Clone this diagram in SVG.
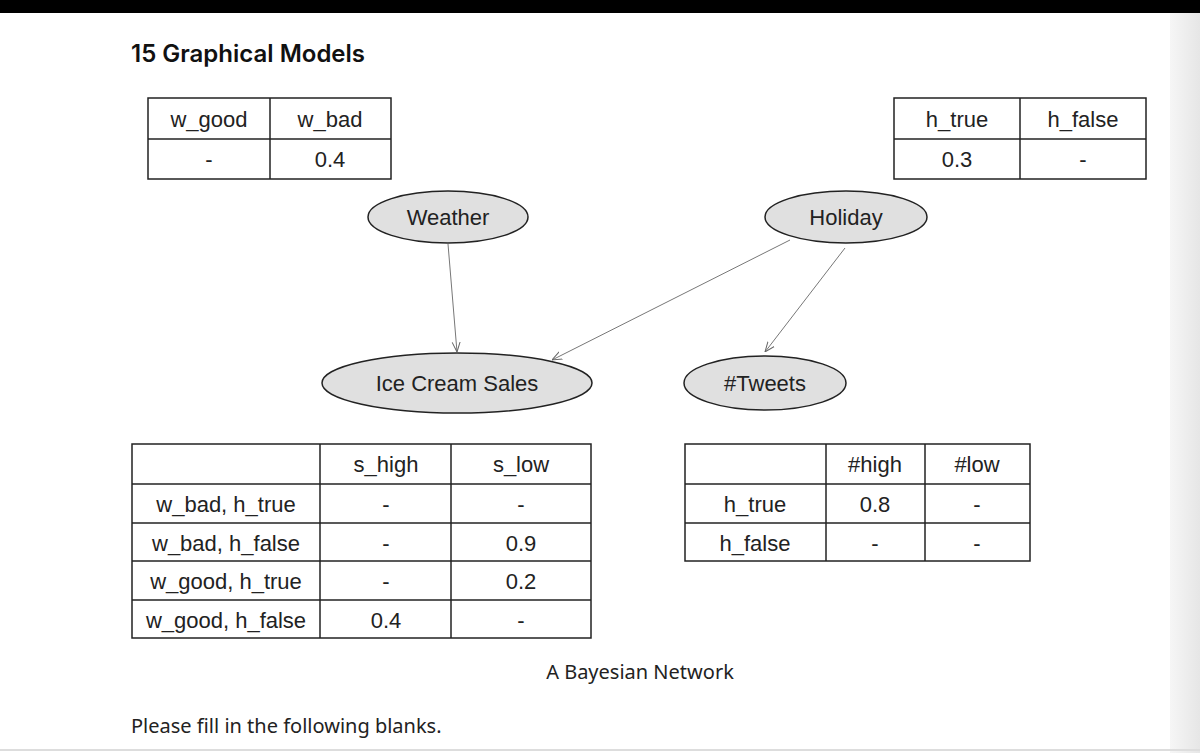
<svg xmlns="http://www.w3.org/2000/svg" width="1200" height="753" viewBox="0 0 1200 753">
<defs>
<linearGradient id="edge" x1="0" y1="0" x2="1" y2="0">
<stop offset="0" stop-color="#f6f6f6"/>
<stop offset="1" stop-color="#e6e6e6"/>
</linearGradient>
<marker id="arr" viewBox="0 0 10 10" refX="10" refY="5" markerWidth="10" markerHeight="10" markerUnits="userSpaceOnUse" orient="auto">
<path d="M0,1 L10,5 L0,9" fill="none" stroke="#666" stroke-width="1"/>
</marker>
</defs>
<style>
.tb{fill:#fff;stroke:#222;stroke-width:1.5}
.ln{stroke:#222;stroke-width:1.5}
.tt{font-family:"Liberation Sans",Arial,sans-serif;font-size:22px;fill:#222;text-anchor:middle}
.nd{fill:#e0e0e0;stroke:#222;stroke-width:1.5}
.nt{font-family:"Liberation Sans",Arial,sans-serif;font-size:22px;fill:#222;text-anchor:middle}
.ed{stroke:#777;stroke-width:1;fill:none;marker-end:url(#arr)}
.cap{font-family:"Noto Sans","Open Sans",sans-serif;font-size:20px;fill:#222}
</style>
<rect x="0" y="0" width="1200" height="753" fill="#fff"/>
<rect x="1170" y="0" width="30" height="753" fill="url(#edge)"/>
<rect x="0" y="0" width="1200" height="13" fill="#000"/>
<line x1="0" y1="750" x2="1200" y2="750" stroke="#ddd" stroke-width="2"/>
<text x="131" y="62" font-family="Inter,'Liberation Sans',sans-serif" font-weight="600" font-size="24" fill="#111">15 Graphical Models</text>

<g id="table-weather">
<rect class="tb" x="148" y="98" width="243" height="81"/>
<line class="ln" x1="270" y1="98" x2="270" y2="179"/>
<line class="ln" x1="148" y1="139" x2="391" y2="139"/>
<text class="tt" x="209" y="127">w_good</text>
<text class="tt" x="330" y="127">w_bad</text>
<text class="tt" x="209" y="167">-</text>
<text class="tt" x="330" y="167">0.4</text>
</g>

<g id="table-holiday">
<rect class="tb" x="894" y="98" width="252" height="81"/>
<line class="ln" x1="1020" y1="98" x2="1020" y2="179"/>
<line class="ln" x1="894" y1="139" x2="1146" y2="139"/>
<text class="tt" x="957" y="127">h_true</text>
<text class="tt" x="1083" y="127">h_false</text>
<text class="tt" x="957" y="167">0.3</text>
<text class="tt" x="1083" y="167">-</text>
</g>

<g id="connectors">
<line class="ed" x1="448" y1="244" x2="457" y2="352"/>
<line class="ed" x1="790" y1="240" x2="552" y2="360"/>
<line class="ed" x1="845" y1="248" x2="765" y2="352"/>
</g>

<g id="node-weather">
<ellipse class="nd" cx="448" cy="217" rx="80" ry="26"/>
<text class="nt" x="448" y="225">Weather</text>
</g>
<g id="node-holiday">
<ellipse class="nd" cx="846" cy="217" rx="81" ry="26"/>
<text class="nt" x="846" y="225">Holiday</text>
</g>
<g id="node-icecream">
<ellipse class="nd" cx="457" cy="383" rx="135" ry="30"/>
<text class="nt" x="457" y="391">Ice Cream Sales</text>
</g>
<g id="node-tweets">
<ellipse class="nd" cx="765" cy="383" rx="81" ry="27"/>
<text class="nt" x="765" y="391">#Tweets</text>
</g>

<g id="table-sales">
<rect class="tb" x="132" y="444" width="459" height="194"/>
<line class="ln" x1="320" y1="444" x2="320" y2="638"/>
<line class="ln" x1="451" y1="444" x2="451" y2="638"/>
<line class="ln" x1="132" y1="484" x2="591" y2="484"/>
<line class="ln" x1="132" y1="523" x2="591" y2="523"/>
<line class="ln" x1="132" y1="561" x2="591" y2="561"/>
<line class="ln" x1="132" y1="600" x2="591" y2="600"/>
<text class="tt" x="386" y="472">s_high</text>
<text class="tt" x="521" y="472">s_low</text>
<text class="tt" x="226" y="512">w_bad, h_true</text>
<text class="tt" x="386" y="512">-</text>
<text class="tt" x="521" y="512">-</text>
<text class="tt" x="226" y="551">w_bad, h_false</text>
<text class="tt" x="386" y="551">-</text>
<text class="tt" x="521" y="551">0.9</text>
<text class="tt" x="226" y="589">w_good, h_true</text>
<text class="tt" x="386" y="589">-</text>
<text class="tt" x="521" y="589">0.2</text>
<text class="tt" x="226" y="628">w_good, h_false</text>
<text class="tt" x="386" y="628">0.4</text>
<text class="tt" x="521" y="628">-</text>
</g>

<g id="table-tweets">
<rect class="tb" x="685" y="444" width="345" height="117"/>
<line class="ln" x1="826" y1="444" x2="826" y2="561"/>
<line class="ln" x1="925" y1="444" x2="925" y2="561"/>
<line class="ln" x1="685" y1="484" x2="1030" y2="484"/>
<line class="ln" x1="685" y1="523" x2="1030" y2="523"/>
<text class="tt" x="875" y="472">#high</text>
<text class="tt" x="977" y="472">#low</text>
<text class="tt" x="755" y="512">h_true</text>
<text class="tt" x="875" y="512">0.8</text>
<text class="tt" x="977" y="512">-</text>
<text class="tt" x="755" y="551">h_false</text>
<text class="tt" x="875" y="551">-</text>
<text class="tt" x="977" y="551">-</text>
</g>

<text class="cap" x="640" y="679" text-anchor="middle">A Bayesian Network</text>
<text class="cap" x="131" y="733">Please fill in the following blanks.</text>
</svg>
